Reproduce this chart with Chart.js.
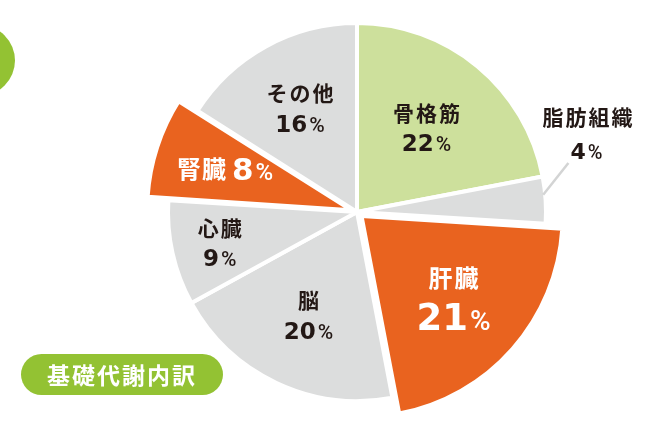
<!DOCTYPE html>
<html lang="ja">
<head>
<meta charset="utf-8">
<script src="https://cdn.jsdelivr.net/npm/chart.js@4.4.1/dist/chart.umd.min.js"></script>
<style>
body{margin:0;background:#fff;}
#wrap{position:relative;width:652px;height:438px;overflow:hidden;}
#dot{position:absolute;left:-56px;top:25px;width:71px;height:71px;border-radius:50%;background:#93c233;}
#tag{position:absolute;left:21px;top:354px;width:202px;height:41px;border-radius:21px;background:#93c233;color:#fff;
 font:700 23px "Noto Sans CJK JP";line-height:41px;text-align:center;letter-spacing:2px;}
canvas{position:absolute;left:0;top:0;}
</style>
</head>
<body>
<div id="wrap">
 <canvas id="pieChart" width="652" height="438"></canvas>
 <div id="dot"></div>
 <div id="tag">基礎代謝内訳</div>
</div>
<script>
// 基礎代謝の内訳 (%)
const organs = ["骨格筋", "脂肪組織", "肝臓", "脳", "心臓", "腎臓", "その他"];
const shares = [22, 4, 21, 20, 9, 8, 16];

const sliceColors = ["#cde09c", "#dcdddd", "#e9631f", "#dcdddd", "#dcdddd", "#e9631f", "#dcdddd"];
const bigSlice = [false, false, true, false, false, true, false];
// label placement (fraction of radius), "out" = outside with leader line
const labelRadius = [0.577, "out", 0.61, 0.604, 0.744, 0.66, 0.625];

const DARK = "#231815";
const CJK = '"Noto Sans CJK JP"';
const NUM = '"DejaVu Sans"';

function drawValue(ctx, x, cy, v, numSize, pctSize, color){
 ctx.fillStyle = color;
 ctx.textAlign = "left";
 ctx.textBaseline = "alphabetic";
 ctx.font = "700 " + numSize + "px " + NUM;
 const nw = ctx.measureText(String(v)).width;
 ctx.font = "500 " + pctSize + "px Roboto";
 const pw = ctx.measureText("%").width;
 let left = x - (nw + 2 + pw) / 2;
 const base = cy + numSize * 0.365;
 ctx.font = "700 " + numSize + "px " + NUM;
 ctx.fillText(String(v), left, base);
 ctx.font = "500 " + pctSize + "px Roboto";
 ctx.fillText("%", left + nw + 2, base);
}

function drawName(ctx, x, cy, name, size, color){
 ctx.fillStyle = color;
 ctx.textAlign = "center";
 ctx.textBaseline = "middle";
 ctx.font = "700 " + size + "px " + CJK;
 ctx.letterSpacing = "2px";
 ctx.fillText(name, x + 1, cy);
 ctx.letterSpacing = "0px";
}

const growSlices = {
 id: "growSlices",
 afterDatasetsUpdate(chart){
  const meta = chart.getDatasetMeta(0);
  meta.data.forEach((arc, i) => {
   if(bigSlice[i]) arc.outerRadius = 201;
  });
 }
};

const sliceLabels = {
 id: "sliceLabels",
 afterDatasetsDraw(chart){
  const ctx = chart.ctx;
  const meta = chart.getDatasetMeta(0);
  meta.data.forEach((arc, i) => {
   const mid = (arc.startAngle + arc.endAngle) / 2;
   const shift = (arc.options.offset || 0) / 4;
   const cx = arc.x + Math.cos(mid) * shift;
   const cy = arc.y + Math.sin(mid) * shift;
   ctx.save();
   if(labelRadius[i] === "out"){
    const a1 = mid - 0.03, a2 = mid - 0.165;
    const r1 = arc.outerRadius - 2, r2 = arc.outerRadius + 28;
    const x1 = cx + Math.cos(a1) * r1, y1 = cy + Math.sin(a1) * r1;
    const x2 = cx + Math.cos(a2) * r2, y2 = cy + Math.sin(a2) * r2;
    ctx.strokeStyle = "#d3d4d4";
    ctx.lineWidth = 2.5;
    ctx.beginPath();
    ctx.moveTo(x1, y1);
    ctx.lineTo(x2, y2);
    ctx.stroke();
    drawName(ctx, x2 + 19, y2 - 46, organs[i], 21, DARK);
    drawValue(ctx, x2 + 18, y2 - 12, shares[i], 22, 20, DARK);
   } else {
    const r = arc.outerRadius * labelRadius[i];
    const lx = cx + Math.cos(mid) * r;
    const ly = cy + Math.sin(mid) * r;
    if(bigSlice[i] && shares[i] < 10){
     // one line: name + value
     ctx.font = "700 24px " + CJK;
     ctx.letterSpacing = "1px";
     const nw = ctx.measureText(organs[i]).width;
     ctx.letterSpacing = "0px";
     ctx.font = "700 31px " + NUM;
     const vw = ctx.measureText(String(shares[i])).width;
     ctx.font = "500 24px Roboto";
     const pw = ctx.measureText("%").width;
     const total = nw + 5 + vw + 2 + pw;
     const left = lx - total / 2;
     ctx.fillStyle = "#fff";
     ctx.textAlign = "left";
     ctx.textBaseline = "middle";
     ctx.font = "700 24px " + CJK;
     ctx.letterSpacing = "1px";
     ctx.fillText(organs[i], left, ly);
     ctx.letterSpacing = "0px";
     drawValue(ctx, left + nw + 5 + (vw + 2 + pw) / 2, ly, shares[i], 31, 24, "#fff");
    } else if(bigSlice[i]){
     drawName(ctx, lx, ly - 19, organs[i], 24, "#fff");
     drawValue(ctx, lx, ly + 19, shares[i], 37, 28, "#fff");
    } else {
     drawName(ctx, lx, ly - 15, organs[i], 21, DARK);
     drawValue(ctx, lx, ly + 15, shares[i], 23, 21, DARK);
    }
   }
   ctx.restore();
  });
 }
};

const ctx = document.getElementById("pieChart").getContext("2d");
new Chart(ctx, {
 type: "pie",
 data: {
  labels: organs,
  datasets: [{
   data: shares,
   backgroundColor: sliceColors,
   borderColor: "#ffffff",
   borderWidth: 4,
   offset: bigSlice.map(b => b ? 24 : 0)
  }]
 },
 options: {
  responsive: false,
  animation: false,
  events: [],
  radius: 189,
  layout: {padding: {left: 62, right: 0, top: 0, bottom: 14}},
  plugins: {
   legend: {display: false},
   tooltip: {enabled: false}
  }
 },
 plugins: [growSlices, sliceLabels]
});
</script>
</body>
</html>
